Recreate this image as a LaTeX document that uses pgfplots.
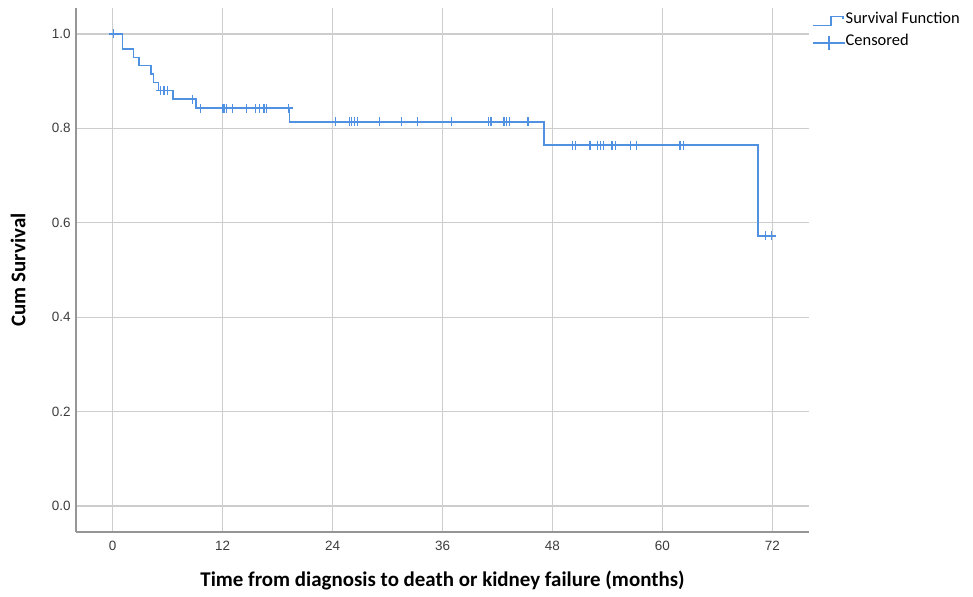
\documentclass[border=0pt]{standalone}
\usepackage{fontspec}
\setmainfont{Carlito}
\newfontfamily\tickfont{Liberation Sans}
\usepackage{pgfplots}
\pgfplotsset{compat=1.18}
\definecolor{kmblue}{RGB}{80,145,225}
\definecolor{gridgray}{RGB}{205,205,205}
\definecolor{axgray}{RGB}{150,150,150}
\definecolor{tickgray}{RGB}{60,60,60}
\begin{document}
\begin{tikzpicture}[x=1bp,y=1bp]
\useasboundingbox (0,0) rectangle (973,597);
\begin{axis}[
  at={(76bp,65bp)}, anchor=south west,
  scale only axis, width=733bp, height=524bp,
  xmin=-4, xmax=76, ymin=-0.055, ymax=1.055,
  axis x line*=bottom, axis y line*=left,
  axis line style={draw=axgray, line width=1.6bp},
  xtick={0,12,24,36,48,60,72},
  ytick={0,0.2,0.4,0.6,0.8,1.0},
  yticklabel style={xshift=-2bp, /pgf/number format/fixed, /pgf/number format/fixed zerofill, /pgf/number format/precision=1},
  /pgf/number format/assume math mode=true,
  ticklabel style={font=\tickfont\fontsize{13.5}{15}\selectfont, text=tickgray},
  xticklabel style={yshift=-6bp},
  major tick length=0pt,
  grid=major, grid style={gridgray, line width=1.3bp},
  xlabel={\bfseries Time from diagnosis to death or kidney failure (months)},
  ylabel={\bfseries Cum Survival},
  label style={font=\fontsize{21}{24}\selectfont},
  xlabel style={at={(axis description cs:0.5,-0.092)}, anchor=center},
  ylabel style={at={(axis description cs:-0.0791,0.5)}, anchor=center},
  legend style={at={(axis description cs:1,1)}, anchor=north west, xshift=3bp, yshift=-2bp,
    draw=none, fill=none, inner sep=0pt, outer sep=0pt,
    font=\fontsize{16.5}{18}\selectfont,
    nodes={inner sep=0pt, text height=14bp, text depth=8bp},
    /tikz/every even column/.append style={column sep=0bp}},
  legend cell align=left,
]
\addplot[const plot, color=kmblue, line width=1.8bp,
  legend image code/.code={\draw[color=kmblue, line width=1.8bp] (0bp,-4.5bp) -- (18bp,-4.5bp) -- (18bp,4.5bp) -- (30bp,4.5bp) -- (30bp,2bp);}]
coordinates {
(0,1.0) (1.07,0.968) (2.27,0.950) (2.9,0.933) (4.2,0.915) (4.45,0.897)
(5.0,0.880) (6.55,0.862) (9.1,0.843) (19.3,0.814) (47.1,0.764) (70.4,0.572) (72.45,0.572)
};
\addlegendentry{Survival Function}
\addplot[only marks, mark=+, mark size=4.5bp, color=kmblue, mark options={line width=1.4bp, color=kmblue},
  legend image code/.code={\draw[color=kmblue, line width=1.6bp] (0bp,0bp) -- (32bp,0bp) (16bp,-7bp) -- (16bp,7bp);}]
coordinates {
(0.1,1.0)
(5.2,0.880) (5.6,0.880) (6.0,0.880)
(8.7,0.862)
(9.6,0.843) (12.05,0.843) (12.2,0.843) (12.4,0.843) (13.1,0.843) (14.6,0.843)
(15.6,0.843) (16.05,0.843) (16.5,0.843) (16.8,0.843) (19.2,0.843)
(24.3,0.814) (25.85,0.814) (26.1,0.814) (26.4,0.814) (26.75,0.814) (29.1,0.814)
(31.5,0.814) (33.3,0.814) (37.0,0.814) (41.0,0.814) (41.3,0.814) (42.7,0.814)
(43.0,0.814) (43.3,0.814) (45.35,0.814)
(50.2,0.764) (50.5,0.764) (52.1,0.764) (52.9,0.764) (53.25,0.764) (53.6,0.764)
(54.5,0.764) (54.9,0.764) (56.5,0.764) (57.2,0.764) (61.9,0.764) (62.3,0.764)
(71.25,0.572) (71.9,0.572)
};
\addlegendentry{Censored}
\end{axis}
\end{tikzpicture}
\end{document}
